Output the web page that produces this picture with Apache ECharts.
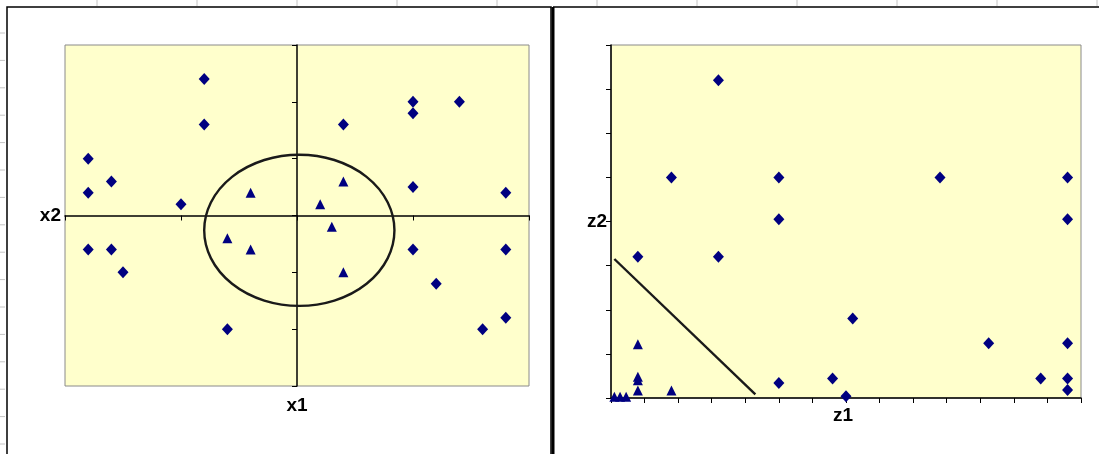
<!DOCTYPE html>
<html>
<head>
<meta charset="utf-8">
<script src="https://cdn.jsdelivr.net/npm/echarts@6/dist/echarts.min.js"></script>
<style>
  html, body { margin: 0; padding: 0; background: #fff; }
  #chart { width: 1099px; height: 454px; }
</style>
</head>
<body>
<div id="chart"></div>
<script>
// left panel: original space (x1, x2)
const leftDiamonds = [
  [-0.8, 2.4], [-0.8, 1.6], [-1.8, 1.0], [-1.6, 0.6], [-1.8, 0.4], [-1.0, 0.2],
  [0.4, 1.6], [1.0, 2.0], [1.0, 1.8], [1.4, 2.0], [1.0, 0.5], [1.8, 0.4],
  [-1.8, -0.6], [-1.6, -0.6], [-1.5, -1.0], [-0.6, -2.0],
  [1.0, -0.6], [1.8, -0.6], [1.2, -1.2], [1.8, -1.8], [1.6, -2.0]
];
const leftTriangles = [
  [-0.4, 0.4], [0.4, 0.6], [0.2, 0.2], [-0.6, -0.4], [-0.4, -0.6], [0.3, -0.2], [0.4, -1.0]
];
// ellipse boundary: centre x, centre y, radius x, radius y
const boundaryEllipse = [[0.02, -0.26, 0.82, 1.33]];

// right panel: transformed space (z1, z2)
const rightDiamonds = [
  [3.2, 7.2], [1.8, 5.0], [5.0, 5.0], [5.0, 4.05], [9.8, 5.0], [13.6, 5.0], [13.6, 4.05],
  [0.8, 3.2], [3.2, 3.2], [5.0, 0.34], [6.6, 0.44], [7.0, 0.04], [7.2, 1.8],
  [11.25, 1.24], [13.6, 1.24], [12.8, 0.44], [13.6, 0.44], [13.6, 0.18]
];
const rightTriangles = [
  [0.8, 1.22], [0.8, 0.48], [0.8, 0.4], [0.8, 0.17], [1.8, 0.17],
  [0.1, 0.03], [0.27, 0.03], [0.45, 0.03]
];
const boundaryLine = [[0.1, 3.15], [4.3, 0.08]];

const NAVY = "#000080";
const AXIS = "#000";
const PLOT_BG = "#FFFFCC";
const FONT = 'bold 19px "Liberation Sans", Arial, sans-serif';

const chart = echarts.init(document.getElementById("chart"), null, { renderer: "canvas" });

const plainAxis = (gridIndex, min, max) => ({
  type: "value",
  gridIndex,
  min,
  max,
  interval: 1,
  splitLine: { show: false },
  axisLabel: { show: false },
  axisLine: { show: true, onZero: true, lineStyle: { color: AXIS, width: 1.5 } },
  axisTick: { show: true, length: 5, lineStyle: { color: AXIS, width: 1 } },
});

const marker = { color: NAVY, opacity: 1 };

// spreadsheet decorations behind the two chart frames
const deco = [];
for (let x = 97; x < 1099; x += 100) {
  deco.push({ type: "line", shape: { x1: x, y1: 0, x2: x, y2: 6 }, style: { stroke: "#c4c4c4", lineWidth: 1 } });
}
for (let y = 33; y < 454; y += 27.4) {
  deco.push({ type: "line", shape: { x1: 0, y1: y, x2: 5, y2: y }, style: { stroke: "#c4c4c4", lineWidth: 1 } });
}

const option = {
  animation: false,
  backgroundColor: "#fff",
  grid: [
    { left: 65, top: 45, width: 464, height: 341, show: true, backgroundColor: PLOT_BG, borderColor: "#8a8a8a", borderWidth: 1 },
    { left: 611, top: 45, width: 470, height: 353, show: true, backgroundColor: PLOT_BG, borderColor: "#8a8a8a", borderWidth: 1 },
  ],
  xAxis: [plainAxis(0, -2, 2), plainAxis(1, 0, 14)],
  yAxis: [plainAxis(0, -3, 3), plainAxis(1, 0, 8)],
  graphic: [
    ...deco,
    { type: "rect", shape: { x: 7, y: 7, width: 544, height: 460 }, style: { fill: null, stroke: "#000", lineWidth: 1.5 }, z: -1 },
    { type: "line", shape: { x1: 553, y1: 7, x2: 553, y2: 454 }, style: { stroke: "#000", lineWidth: 3 } },
    { type: "line", shape: { x1: 553, y1: 7, x2: 1099, y2: 7 }, style: { stroke: "#000", lineWidth: 1.5 } },
    { type: "text", x: 61, y: 216, style: { text: "x2", font: FONT, fill: "#000", align: "right", verticalAlign: "middle" } },
    { type: "text", x: 297, y: 406, style: { text: "x1", font: FONT, fill: "#000", align: "center", verticalAlign: "middle" } },
    { type: "text", x: 607, y: 222, style: { text: "z2", font: FONT, fill: "#000", align: "right", verticalAlign: "middle" } },
    { type: "text", x: 843, y: 416, style: { text: "z1", font: FONT, fill: "#000", align: "center", verticalAlign: "middle" } },
  ],
  series: [
    {
      type: "custom",
      xAxisIndex: 0,
      yAxisIndex: 0,
      data: boundaryEllipse,
      renderItem: (params, api) => {
        const c = api.coord([api.value(0), api.value(1)]);
        const s = api.size([api.value(2), api.value(3)]);
        const rx = s[0];
        const ry = s[1];
        return {
          type: "path",
          shape: {
            pathData:
              `M ${c[0] - rx} ${c[1]} A ${rx} ${ry} 0 1 0 ${c[0] + rx} ${c[1]} ` +
              `A ${rx} ${ry} 0 1 0 ${c[0] - rx} ${c[1]} Z`,
          },
          style: { fill: "none", stroke: "#1a1a1a", lineWidth: 2.4 },
        };
      },
      z: 1,
    },
    {
      type: "scatter",
      xAxisIndex: 0,
      yAxisIndex: 0,
      data: leftDiamonds,
      symbol: "diamond",
      symbolSize: [11, 12],
      itemStyle: marker,
      z: 3,
    },
    {
      type: "scatter",
      xAxisIndex: 0,
      yAxisIndex: 0,
      data: leftTriangles,
      symbol: "triangle",
      symbolSize: [10, 10],
      itemStyle: marker,
      z: 3,
    },
    {
      type: "line",
      xAxisIndex: 1,
      yAxisIndex: 1,
      data: boundaryLine,
      showSymbol: false,
      lineStyle: { color: "#1a1a1a", width: 2.4 },
      z: 1,
    },
    {
      type: "scatter",
      xAxisIndex: 1,
      yAxisIndex: 1,
      data: rightDiamonds,
      symbol: "diamond",
      symbolSize: [11, 12],
      itemStyle: marker,
      z: 3,
    },
    {
      type: "scatter",
      xAxisIndex: 1,
      yAxisIndex: 1,
      data: rightTriangles,
      symbol: "triangle",
      symbolSize: [10, 10],
      itemStyle: marker,
      z: 3,
    },
  ],
};

chart.setOption(option);
</script>
</body>
</html>
